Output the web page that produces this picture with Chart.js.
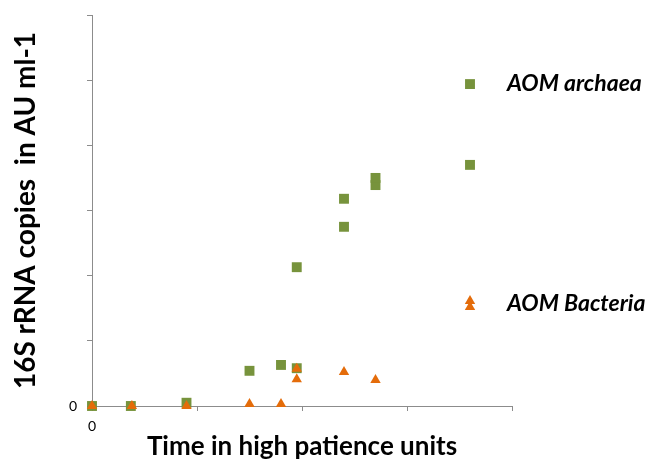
<!DOCTYPE html>
<html>
<head>
<meta charset="utf-8">
<script src="https://cdn.jsdelivr.net/npm/chart.js@4/dist/chart.umd.min.js"></script>
<style>
  html, body { margin: 0; padding: 0; background: #fff; }
  #wrap { width: 647px; height: 462px; position: relative; }
</style>
</head>
<body>
<div id="wrap"><canvas id="c"></canvas></div>
<script>
// ── data (x in time units, y in AU) ───────────────────
const archaeaX = [0, 0.37, 0.9, 1.5, 1.8, 1.95, 1.95, 2.4, 2.4, 2.7, 2.7, 3.6, 3.6];
const archaeaY = [0, 0, 0.05, 0.54, 0.63, 0.58, 2.13, 2.75, 3.18, 3.39, 3.5, 3.7, 4.94];
const bacteriaX = [0, 0.38, 0.9, 1.5, 1.8, 1.95, 1.95, 2.4, 2.7, 3.6, 3.6];
const bacteriaY = [0, 0, 0, 0.03, 0.03, 0.57, 0.41, 0.52, 0.4, 1.61, 1.52];
const seriesNames = ['AOM archaea', 'AOM Bacteria'];
const labelAt = [[3.6, 4.94], [3.6, 1.57]];

const green = '#77933C';
const orange = '#E46C0A';
const axisGrey = '#8c8c8c';
const font = 'Lato, "Open Sans", sans-serif';

const toPts = (xs, ys) => xs.map((x, i) => ({ x, y: ys[i] }));

// labels next to the series, placed in data coordinates
const seriesLabels = {
  id: 'seriesLabels',
  afterDatasetsDraw(chart) {
    const { ctx, scales: { x, y } } = chart;
    ctx.save();
    ctx.fillStyle = '#000';
    ctx.font = 'italic bold 23px ' + font;
    ctx.textBaseline = 'middle';
    seriesNames.forEach((name, i) => {
      ctx.fillText(name, x.getPixelForValue(labelAt[i][0]) + 37, y.getPixelForValue(labelAt[i][1]));
    });
    ctx.restore();
  }
};

new Chart(document.getElementById('c'), {
  type: 'scatter',
  data: {
    datasets: [
      { label: seriesNames[0], data: toPts(archaeaX, archaeaY), pointStyle: 'rect', pointRadius: 7, pointHoverRadius: 7,
        backgroundColor: green, borderColor: green, borderWidth: 0, clip: false, order: 1 },
      { label: seriesNames[1], data: toPts(bacteriaX, bacteriaY), pointStyle: 'triangle', pointRadius: 6, pointHoverRadius: 6,
        backgroundColor: orange, borderColor: orange, borderWidth: 0, clip: false, order: 0 }
    ]
  },
  options: {
    responsive: true, maintainAspectRatio: false, animation: false,
    layout: { padding: { top: 15, right: 135, left: 0, bottom: 0 } },
    plugins: { legend: { display: false }, tooltip: { enabled: false } },
    scales: {
      x: {
        type: 'linear', min: 0, max: 4,
        afterFit: s => { s.height = 56; s.paddingLeft = 0; s.paddingRight = 0; },
        grid: { drawOnChartArea: false, tickLength: 5, color: axisGrey },
        border: { color: axisGrey, width: 1 },
        ticks: { stepSize: 1, padding: 7, color: '#000', font: { family: font, size: 14 }, callback: v => v === 0 ? '0' : '' },
        title: { display: true, text: 'Time in high patience units', color: '#000', padding: { top: 0, bottom: 0 },
          font: { family: font, size: 26, weight: 'bold' } }
      },
      y: {
        type: 'linear', min: 0, max: 6,
        afterFit: s => { s.width = 92; s.paddingTop = 0; s.paddingBottom = 0; },
        grid: { drawOnChartArea: false, tickLength: 5, color: axisGrey },
        border: { color: axisGrey, width: 1 },
        ticks: { stepSize: 1, padding: 10, color: '#000', font: { family: font, size: 14 }, callback: v => v === 0 ? '0' : '' },
        title: { display: true, text: '16S rRNA copies  in AU ml-1', color: '#000', padding: { top: 9, bottom: 0 },
          font: { family: font, size: 28, weight: 'bold' } }
      }
    }
  },
  plugins: [seriesLabels]
});
</script>
</body>
</html>
